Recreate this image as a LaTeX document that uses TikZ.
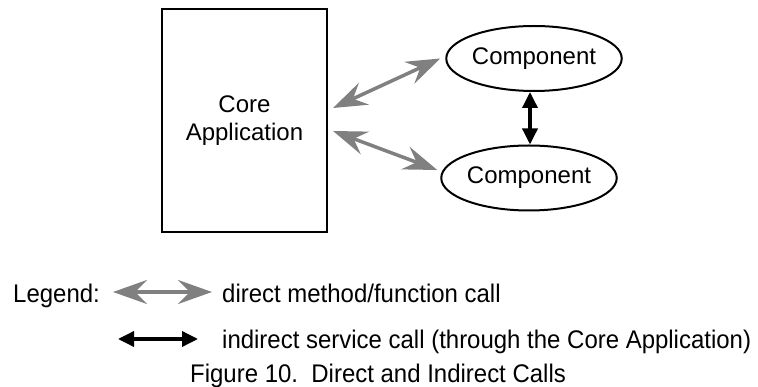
\documentclass[tikz,border=0pt]{standalone}
\usepackage{fontspec}
\setmainfont{Liberation Sans}
\newfontfamily\lgfont[FakeStretch=0.94]{Liberation Sans}
\usetikzlibrary{arrows.meta,shapes.geometric}
\definecolor{arrowgray}{RGB}{128,128,128}
\begin{document}
\begin{tikzpicture}[x=1pt,y=-1pt,
  box/.style={draw, line width=2pt, minimum width=165pt, minimum height=223pt,
    font=\fontsize{24}{28}\selectfont, align=center, inner sep=0pt},
  comp/.style={draw, ellipse, line width=2pt, minimum width=172pt, minimum height=65pt,
    font=\fontsize{24}{28}\selectfont, inner sep=0pt},
  direct/.style={draw=arrowgray, line width=3.5pt,
    {Stealth[length=34pt,width=24pt,inset=12pt]}-{Stealth[length=34pt,width=24pt,inset=12pt]}},
  indirect/.style={draw=black, line width=3.5pt,
    {Triangle[length=16pt,width=15pt]}-{Triangle[length=16pt,width=15pt]}},
  lbl/.style={font=\lgfont\fontsize{25.5}{28}\selectfont, anchor=base west, inner sep=0pt}]
\useasboundingbox (0,0) rectangle (758,387);
\node[box] (core) at (244.5,120.5) {Core\\Application};
\node[comp] (c1) at (534,58.5) {Component};
\node[comp] (c2) at (529,178) {Component};
\draw[direct] ([shift={(5,-12.5)}]core.east) -- ([shift={(-5,0)}]c1.west);
\draw[direct] ([shift={(5,10.5)}]core.east) -- ([shift={(-3,-8)}]c2.west);
\draw[indirect] ([xshift=-4pt]c1.south) -- ([xshift=1pt]c2.north);
% legend
\node[lbl] (legend) at (13,303) {Legend:};
\coordinate (la1) at (113,292);
\coordinate (la2) at (212,292);
\draw[direct] (la1) -- (la2);
\node[lbl] (ldirect) at (222,303) {direct method/function call};
\coordinate (lb1) at (118,339);
\coordinate (lb2) at (198,339);
\draw[indirect] (lb1) -- (lb2);
\node[lbl] (lindirect) at (222,349) {indirect service call (through the Core Application)};
\node[lbl] (caption) at (190,383) {Figure 10.\ \ Direct and Indirect Calls};
\end{tikzpicture}
\end{document}
